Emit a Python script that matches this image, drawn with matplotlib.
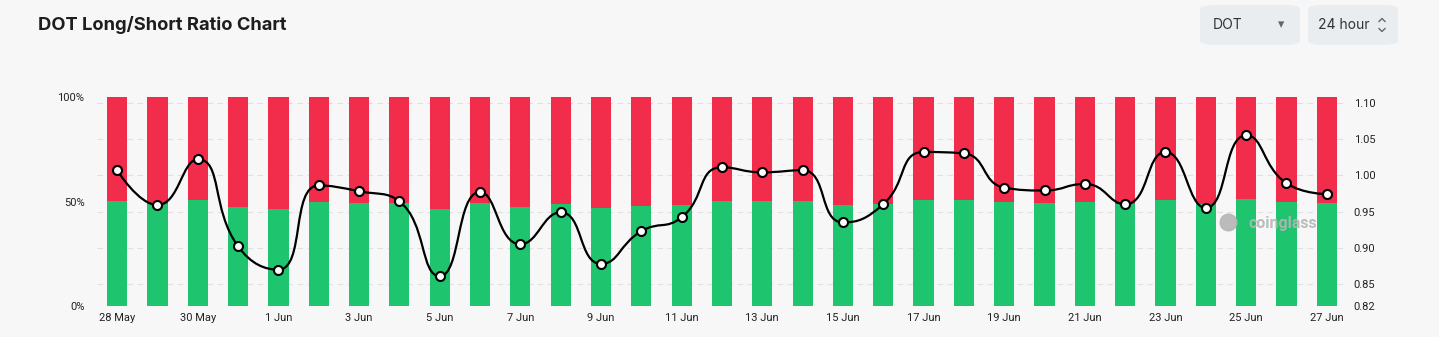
import matplotlib.pyplot as plt
from matplotlib.path import Path
from matplotlib.patches import PathPatch, FancyBboxPatch
from matplotlib.lines import Line2D
import numpy as np

# data
dates = ['28 May', '29 May', '30 May', '31 May', '1 Jun', '2 Jun', '3 Jun', '4 Jun',
         '5 Jun', '6 Jun', '7 Jun', '8 Jun', '9 Jun', '10 Jun', '11 Jun', '12 Jun',
         '13 Jun', '14 Jun', '15 Jun', '16 Jun', '17 Jun', '18 Jun', '19 Jun', '20 Jun',
         '21 Jun', '22 Jun', '23 Jun', '24 Jun', '25 Jun', '26 Jun', '27 Jun']
long_pct = [50.2, 48.9, 50.5, 47.4, 46.5, 49.6, 49.4, 49.1, 46.3, 49.4, 47.5, 48.7,
            46.7, 48.0, 48.5, 50.3, 50.1, 50.2, 48.3, 49.0, 50.8, 50.7, 49.6, 49.5,
            49.7, 49.0, 50.8, 48.8, 51.3, 49.7, 49.3]
ratio = [1.007, 0.959, 1.022, 0.902, 0.870, 0.986, 0.978, 0.964, 0.861, 0.977, 0.905,
         0.949, 0.878, 0.923, 0.942, 1.011, 1.004, 1.007, 0.935, 0.960, 1.032, 1.030,
         0.983, 0.979, 0.988, 0.960, 1.032, 0.955, 1.055, 0.989, 0.974]
left_ticks = [0, 50, 100]
right_ticks = [0.82, 0.85, 0.90, 0.95, 1.00, 1.05, 1.10]

BG = '#f7f7f7'
GREEN = '#1fc56e'
RED = '#f22c4b'
W, H = 1439, 337

plt.rcParams['font.family'] = ['Roboto', 'DejaVu Sans']

fig = plt.figure(figsize=(W / 100, H / 100), dpi=100, facecolor=BG)
ax = fig.add_axes([0.0674, 0.092, 0.8686, 0.620])
ax.set_facecolor(BG)
ax2 = ax.twinx()

x = np.arange(len(dates))
long_arr = np.array(long_pct)
short_arr = 100 - long_arr
ax.bar(x, long_arr, width=0.5, color=GREEN, zorder=2)
ax.bar(x, short_arr, width=0.5, bottom=long_arr, color=RED, zorder=2)

ax.set_xlim(-0.5, len(dates) - 0.5)
ax.set_ylim(0, 100)
ax.set_yticks(left_ticks)
ax.set_yticklabels([f'{t}%' for t in left_ticks])
ax.set_xticks(x[::2])
ax.set_xticklabels(dates[::2])

ax2.set_ylim(0.82, 1.1076)
ax2.set_yticks(right_ticks)
ax2.set_yticklabels([f'{t:.2f}' for t in right_ticks])
# grid follows the ratio axis but sits behind the bars
for t in right_ticks:
    ax.plot([-0.5, len(dates) - 0.5], [t, t], transform=ax2.transData,
            color='#e0e0e0', lw=0.8, ls=(0, (5, 4)), zorder=0)

for a in (ax, ax2):
    for s in a.spines.values():
        s.set_visible(False)
    a.tick_params(length=0, labelsize=8, colors='#222222')
ax.tick_params(axis='y', pad=9)
ax.tick_params(axis='x', pad=5)
ax2.tick_params(axis='y', pad=5)
ax.set_zorder(1)
ax2.set_zorder(2)
ax2.patch.set_visible(False)

# smooth line, echarts style bezier with min/max clamping
pts = ax2.transData.transform(np.column_stack([x, ratio]))
smooth = 0.5
verts = [pts[0]]
codes = [Path.MOVETO]
cp0 = pts[0].copy()
for i in range(1, len(pts)):
    p = pts[i]
    prev = pts[i - 1]
    if i == len(pts) - 1:
        cp1 = p.copy()
        nxt_cp0 = p.copy()
    else:
        nxt = pts[i + 1]
        v = nxt - prev
        l0 = np.hypot(*(p - prev))
        l1 = np.hypot(*(nxt - p))
        r = l1 / (l0 + l1)
        ncp = p + v * smooth * r
        ncp = np.minimum(ncp, np.maximum(nxt, p))
        ncp = np.maximum(ncp, np.minimum(nxt, p))
        cp1 = p - (ncp - p) * l0 / l1
        cp1 = np.minimum(cp1, np.maximum(prev, p))
        cp1 = np.maximum(cp1, np.minimum(prev, p))
        nxt_cp0 = p + (p - cp1) * l1 / l0
    verts += [cp0, cp1, p]
    codes += [Path.CURVE4] * 3
    cp0 = nxt_cp0
verts = ax2.transData.inverted().transform(np.array(verts))
ax2.add_patch(PathPatch(Path(verts, codes), fill=False, ec='black', lw=1.6, zorder=3))
ax2.plot(x, ratio, ls='none', marker='o', ms=6.5, mfc='white', mec='black', mew=1.5, zorder=4)

# watermark
ax2.text(28.9, 0.934, 'coinglass', color='#b5b5b5', fontsize=11.5, fontweight='bold',
         ha='center', va='center', zorder=5, alpha=0.9)
ax2.plot([27.55], [0.935], marker='o', ms=12, color='#b5b5b5', alpha=0.9, zorder=5)

# title and selectors
fig.text(38 / W, 1 - 25 / H, 'DOT Long/Short Ratio Chart', fontsize=13.2,
         fontweight='bold', color='#1d1d1f', va='center', family=['Inter', 'DejaVu Sans'])
for x0, w in [(1200, 100), (1308, 90)]:
    fig.patches.append(FancyBboxPatch((x0 / W, 1 - 45 / H), w / W, 40 / H,
                                      boxstyle='round,pad=0,rounding_size=0.012',
                                      transform=fig.transFigure, fc='#e9edf0', ec='none'))
fig.text(1213 / W, 1 - 25 / H, 'DOT', fontsize=10, color='#333333', va='center',
         family=['Inter', 'DejaVu Sans'])
fig.text(1281 / W, 1 - 25 / H, '▾', fontsize=9, color='#666666', va='center', ha='center',
         family=['DejaVu Sans'])
fig.text(1318 / W, 1 - 25 / H, '24 hour', fontsize=10, color='#333333', va='center',
         family=['Inter', 'DejaVu Sans'])
# up/down chevrons
for cy, d in [(20, -1), (30, 1)]:
    fig.lines.append(Line2D([1379 / W, 1382 / W, 1385 / W],
                            [1 - (cy - d * 1.5) / H, 1 - (cy + d * 1.5) / H, 1 - (cy - d * 1.5) / H],
                            transform=fig.transFigure, color='#666666', lw=1.0))

fig.savefig('out.png', dpi=100, facecolor=BG)
